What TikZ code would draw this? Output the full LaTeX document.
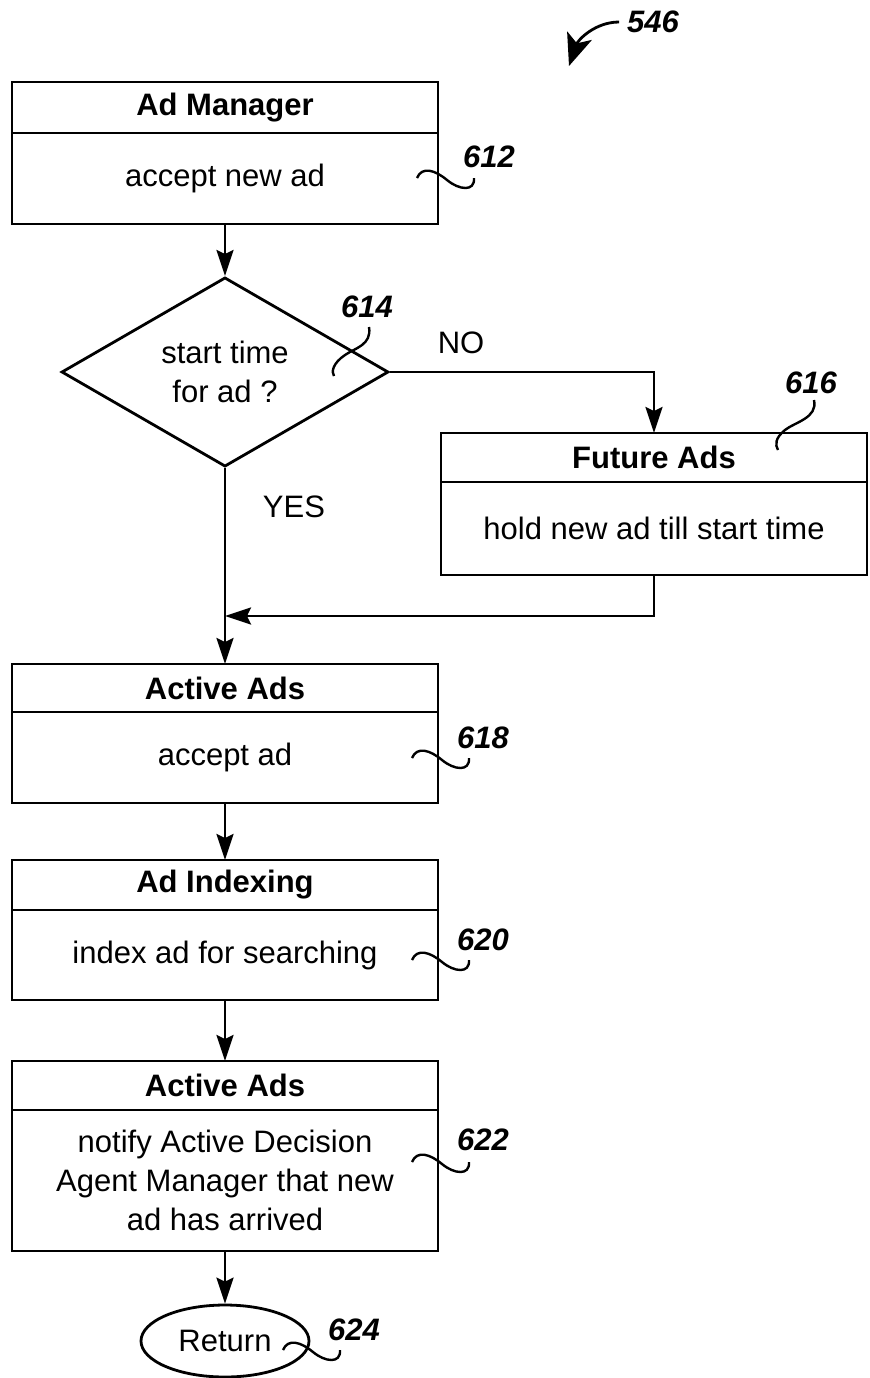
\documentclass[tikz,border=0pt]{standalone}
\usepackage{fontspec}
\setmainfont{Liberation Sans}
\usetikzlibrary{shapes.geometric,arrows.meta,positioning}

\begin{document}
\begin{tikzpicture}[x=0.5pt, y=-0.5pt, line width=1.4pt,
  every node/.style={font=\fontsize{15.5}{19.5}\selectfont},
  hdr/.style={draw, rectangle, outer sep=0pt, inner sep=0pt, minimum width=213pt, font=\fontsize{15.5}{19.5}\selectfont\bfseries},
  body/.style={draw, rectangle, outer sep=0pt, inner sep=0pt, minimum width=213pt, align=center},
  num/.style={font=\fontsize{15.5}{19.5}\selectfont\bfseries\itshape},
  flow/.style={-{Stealth[length=13pt, width=8.5pt, inset=2pt]}},
  tilde/.pic={\draw[line width=1.2pt] (0,0) .. controls (5,-12) and (18,-8) .. (30,2) .. controls (42,12) and (58,14) .. (57,0);}]
  \useasboundingbox (0,0) rectangle (869,1378);

  \node[num] (l546) at (653,22) {546};

  % ad manager
  \node[hdr, minimum height=25.5pt] (am) at (225,107.5) {Ad Manager};
  \node[body, minimum height=45.5pt, below=0pt of am] (amb) {accept new ad};
  \node[num] (l612) at (489,157) {612};

  % start time test
  \node[draw, diamond, inner sep=0pt, minimum width=163.5pt, minimum height=81.5pt, align=center] (dec) at (225,372) {start time\\for ad ?};
  \node[num] (l614) at (367,307) {614};
  \node (no) at (461,343) {NO};
  \node (yes) at (294,507) {YES};

  % future ads
  \node[hdr, minimum height=24.5pt] (fa) at (654,457.5) {Future Ads};
  \node[body, minimum height=46.5pt, below=0pt of fa] (fab) {hold new ad till start time};
  \node[num] (l616) at (811,383) {616};
  \coordinate (join) at (225,616);

  % active ads
  \node[hdr, minimum height=24pt] (aa) at (225,688) {Active Ads};
  \node[body, minimum height=45.5pt, below=0pt of aa] (aab) {accept ad};
  \node[num] (l618) at (483,738) {618};

  % indexing
  \node[hdr, minimum height=25pt] (ix) at (225,885) {Ad Indexing};
  \node[body, minimum height=45pt, below=0pt of ix] (ixb) {index ad for searching};
  \node[num] (l620) at (483,940) {620};

  % notify
  \node[hdr, minimum height=24.5pt] (ab) at (225,1085.5) {Active Ads};
  \node[body, minimum height=70.5pt, below=0pt of ab] (abb) {notify Active Decision\\Agent Manager that new\\ad has arrived};
  \node[num] (l622) at (483,1140) {622};

  \node[draw, ellipse, inner sep=0pt, minimum width=84pt, minimum height=36pt] (ret) at (225,1341) {Return};
  \node[num] (l624) at (354,1330) {624};

  \draw[-{Stealth[length=16pt, width=13pt, inset=4pt]}] (l546.west) .. controls (595,22) and (578,40) .. (569,66);
  \draw[flow] (amb.south) -- (dec.north);
  \draw[flow] (dec.east) -| (fa.north);
  \draw[flow] (fab.south) |- (join);
  \draw[flow] (dec.south) -- (aa.north);
  \draw[flow] (aab.south) -- (ix.north);
  \draw[flow] (ixb.south) -- (ab.north);
  \draw[flow] (abb.south) -- (ret.north);

  % leader lines
  \pic at (417,178) {tilde};
  \pic at (412,758) {tilde};
  \pic at (412,960) {tilde};
  \pic at (412,1162) {tilde};
  \pic at (283,1350) {tilde};
  \draw[line width=1.2pt] (369,327) .. controls (372,345) and (355,348) .. (345,355) .. controls (333,363) and (331,372) .. (334,376);
  \draw[line width=1.2pt] (814,400) .. controls (818,418) and (795,422) .. (785,430) .. controls (775,438) and (775,445) .. (778,450);
\end{tikzpicture}
\end{document}
